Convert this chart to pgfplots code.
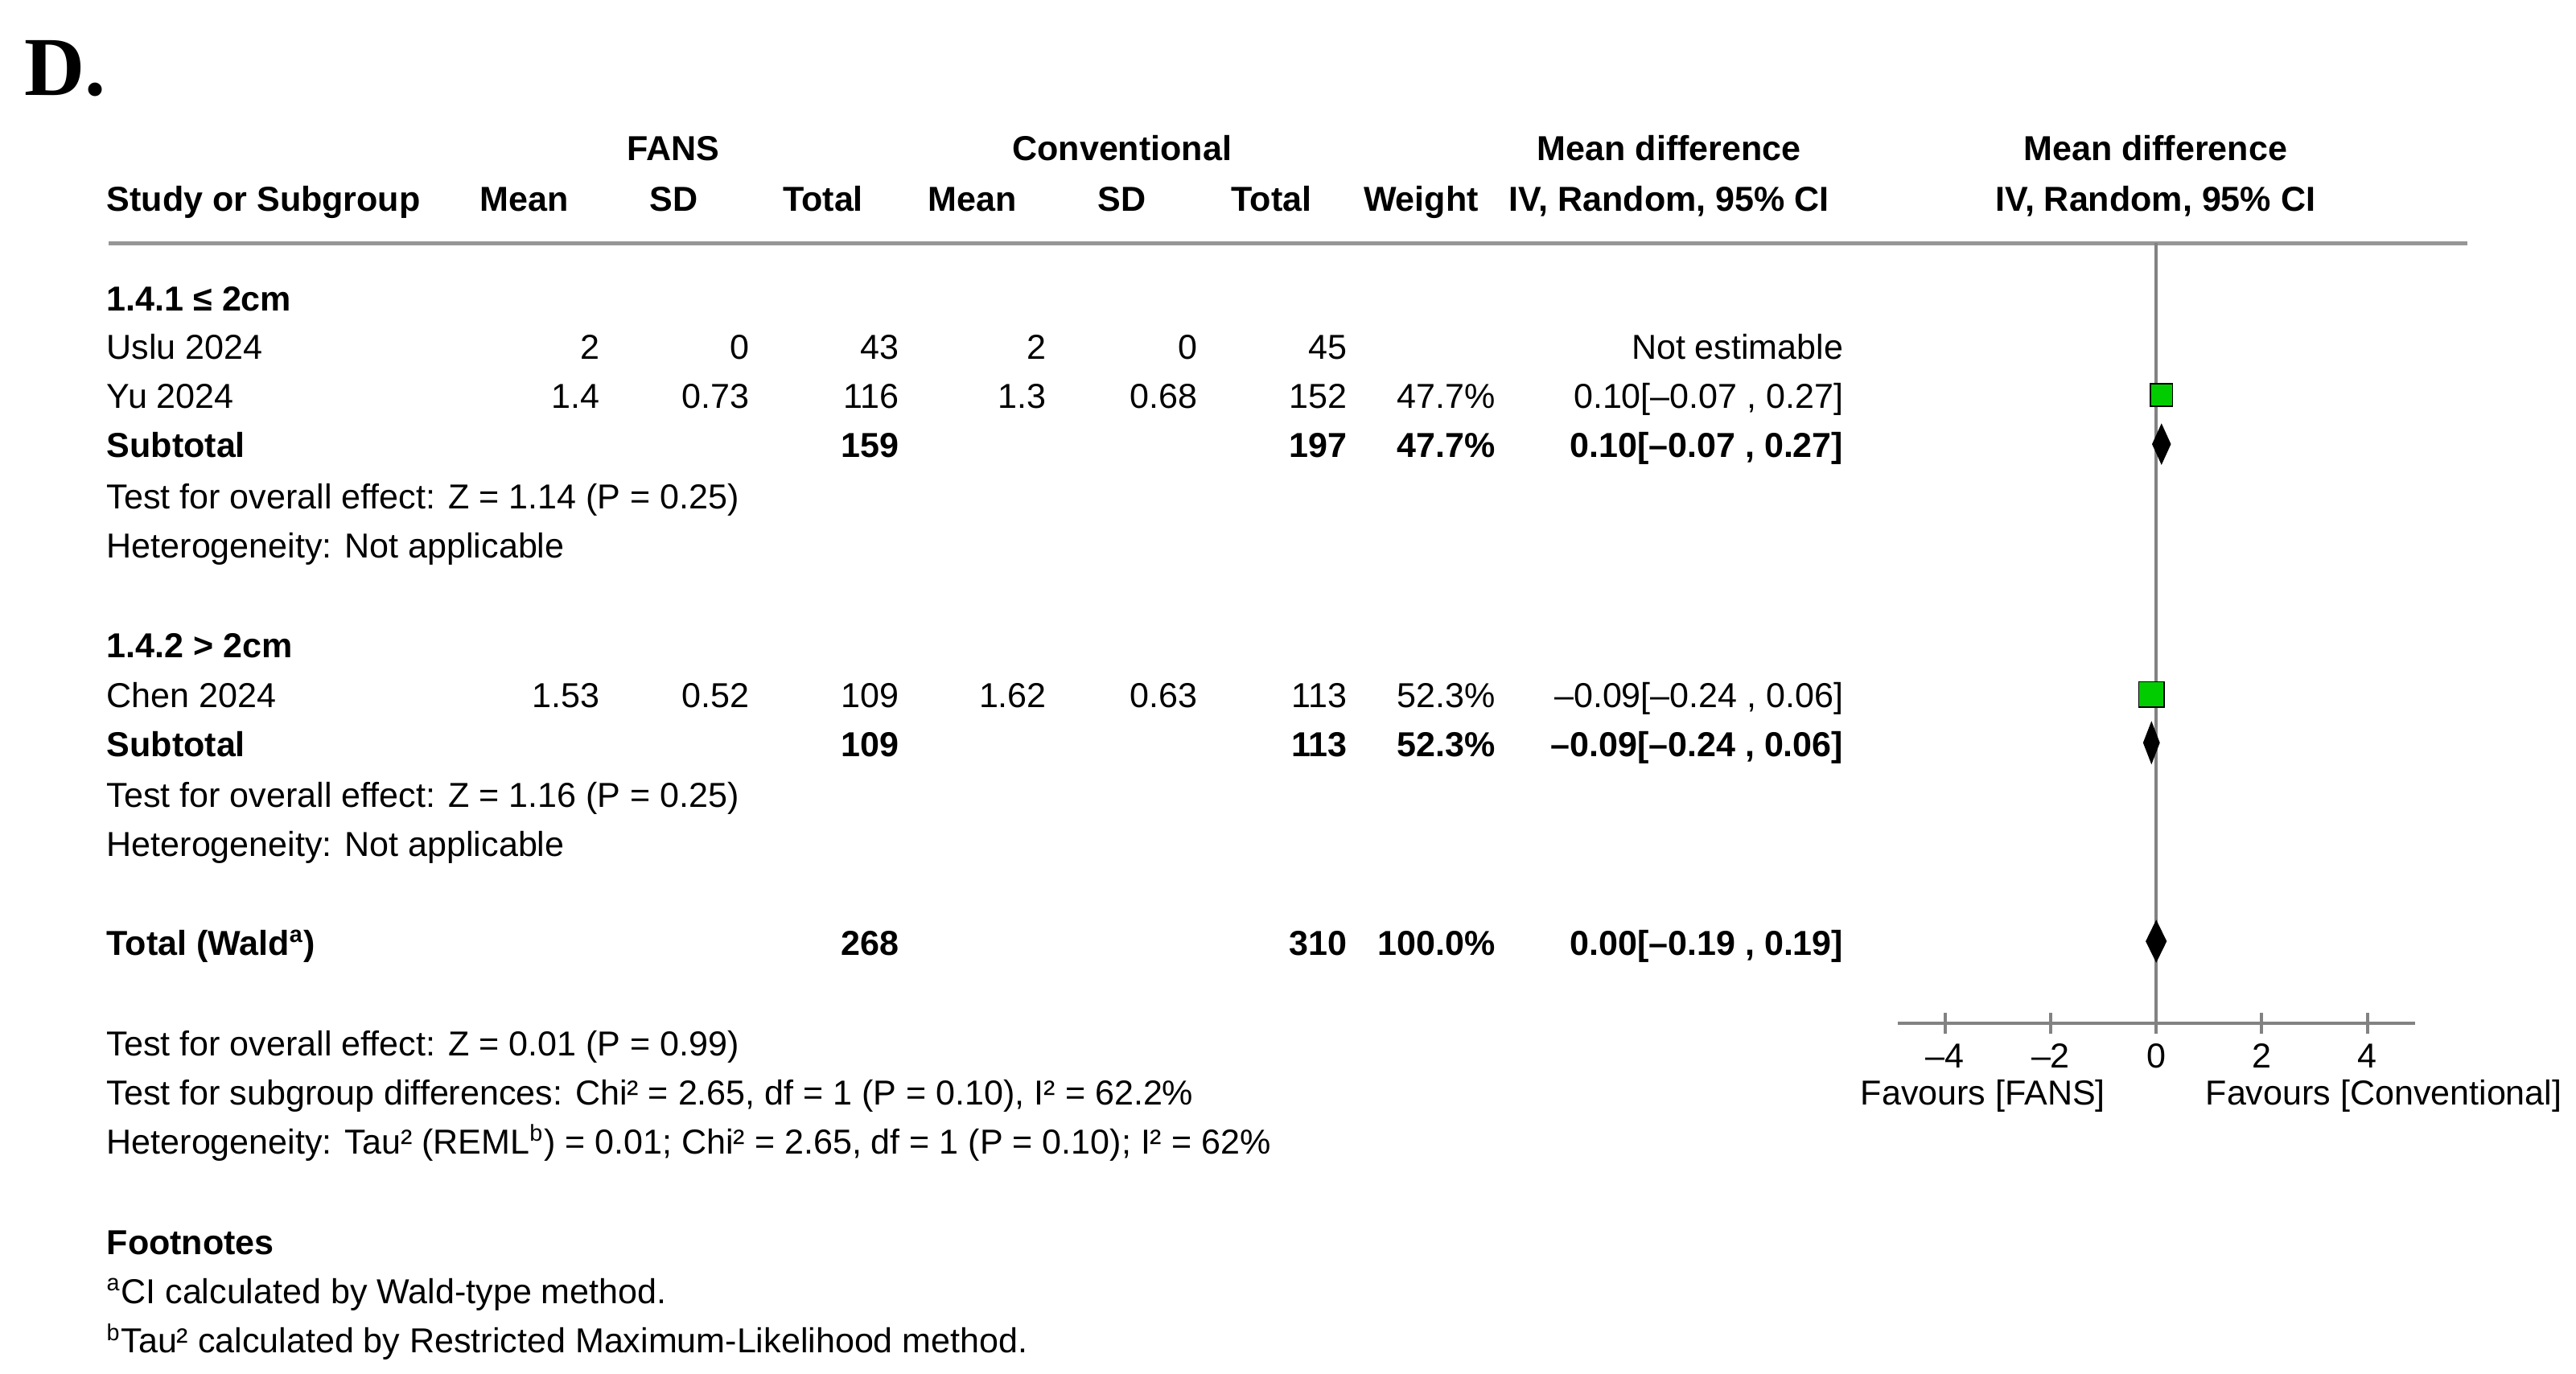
\documentclass[border=0pt]{standalone}
\usepackage{fontspec}
\setmainfont{Liberation Sans}
\newfontfamily\seriffont{Liberation Serif}
\usepackage{pgfplots}
\pgfplotsset{compat=1.18}
\definecolor{rmgreen}{RGB}{0,204,0}
\definecolor{rulegray}{RGB}{150,150,150}
\definecolor{linegray}{RGB}{130,130,130}
\newcommand\f{\fontsize{12pt}{14pt}\selectfont}
\begin{document}
\begin{tikzpicture}[x=0.02cm,y=-0.02cm,every node/.style={font=\f,inner sep=0pt,outer sep=0pt}]
\path (0,0) rectangle (1568,836);
% title
\node[anchor=base west,font=\seriffont\bfseries\fontsize{29pt}{32pt}\selectfont] at (15,58) {D.};
\begin{scope}[shift={(0,1.5)}]
% headers
\begin{scope}[every node/.append style={font=\f\bfseries}]
\node[anchor=base] at (410,96) {FANS};
\node[anchor=base] at (683,96) {Conventional};
\node[anchor=base] at (1016,96) {Mean difference};
\node[anchor=base] at (1312,96) {Mean difference};
\node[anchor=base west] at (65,127) {Study or Subgroup};
\node[anchor=base] at (319,127) {Mean};
\node[anchor=base] at (410,127) {SD};
\node[anchor=base] at (501,127) {Total};
\node[anchor=base] at (592,127) {Mean};
\node[anchor=base] at (683,127) {SD};
\node[anchor=base] at (774,127) {Total};
\node[anchor=base] at (865,127) {Weight};
\node[anchor=base] at (1016,127) {IV, Random, 95\% CI};
\node[anchor=base] at (1312,127) {IV, Random, 95\% CI};
\end{scope}
% subgroup 1
\node[anchor=base west,font=\f\bfseries] at (65,188) {1.4.1 ≤ 2cm};
\node[anchor=base west] at (65,217) {Uslu 2024};
\node[anchor=base east] at (365,217) {2};
\node[anchor=base east] at (456,217) {0};
\node[anchor=base east] at (547,217) {43};
\node[anchor=base east] at (637,217) {2};
\node[anchor=base east] at (729,217) {0};
\node[anchor=base east] at (820,217) {45};
\node[anchor=base east] at (1122,217) {Not estimable};
\node[anchor=base west] at (65,247) {Yu 2024};
\node[anchor=base east] at (365,247) {1.4};
\node[anchor=base east] at (456,247) {0.73};
\node[anchor=base east] at (547,247) {116};
\node[anchor=base east] at (637,247) {1.3};
\node[anchor=base east] at (729,247) {0.68};
\node[anchor=base east] at (820,247) {152};
\node[anchor=base east] at (910,247) {47.7\%};
\node[anchor=base east] at (1122,247) {0.10[–0.07 , 0.27]};
\begin{scope}[every node/.append style={font=\f\bfseries}]
\node[anchor=base west] at (65,277) {Subtotal};
\node[anchor=base east] at (547,277) {159};
\node[anchor=base east] at (820,277) {197};
\node[anchor=base east] at (910,277) {47.7\%};
\node[anchor=base east] at (1122,277) {0.10[–0.07 , 0.27]};
\end{scope}
\node[anchor=base west] at (65,308) {Test for overall effect: Z = 1.14 (P = 0.25)};
\node[anchor=base west] at (65,338) {Heterogeneity: Not applicable};
% subgroup 2
\node[anchor=base west,font=\f\bfseries] at (65,399) {1.4.2 > 2cm};
\node[anchor=base west] at (65,429) {Chen 2024};
\node[anchor=base east] at (365,429) {1.53};
\node[anchor=base east] at (456,429) {0.52};
\node[anchor=base east] at (547,429) {109};
\node[anchor=base east] at (637,429) {1.62};
\node[anchor=base east] at (729,429) {0.63};
\node[anchor=base east] at (820,429) {113};
\node[anchor=base east] at (910,429) {52.3\%};
\node[anchor=base east] at (1122,429) {–0.09[–0.24 , 0.06]};
\begin{scope}[every node/.append style={font=\f\bfseries}]
\node[anchor=base west] at (65,459) {Subtotal};
\node[anchor=base east] at (547,459) {109};
\node[anchor=base east] at (820,459) {113};
\node[anchor=base east] at (910,459) {52.3\%};
\node[anchor=base east] at (1122,459) {–0.09[–0.24 , 0.06]};
\end{scope}
\node[anchor=base west] at (65,490) {Test for overall effect: Z = 1.16 (P = 0.25)};
\node[anchor=base west] at (65,520) {Heterogeneity: Not applicable};
% total
\begin{scope}[every node/.append style={font=\f\bfseries}]
\node[anchor=base west] at (65,580) {Total (Wald\textsuperscript{a})};
\node[anchor=base east] at (547,580) {268};
\node[anchor=base east] at (820,580) {310};
\node[anchor=base east] at (910,580) {100.0\%};
\node[anchor=base east] at (1122,580) {0.00[–0.19 , 0.19]};
\end{scope}
\node[anchor=base west] at (65,641) {Test for overall effect: Z = 0.01 (P = 0.99)};
\node[anchor=base west] at (65,671) {Test for subgroup differences: Chi² = 2.65, df = 1 (P = 0.10), I² = 62.2\%};
\node[anchor=base west] at (65,701) {Heterogeneity: Tau² (REML\textsuperscript{b}) = 0.01; Chi² = 2.65, df = 1 (P = 0.10); I² = 62\%};
\node[anchor=base west,font=\f\bfseries] at (65,762) {Footnotes};
\node[anchor=base west] at (65,792) {\textsuperscript{a}CI calculated by Wald-type method.};
\node[anchor=base west] at (65,822) {\textsuperscript{b}Tau² calculated by Restricted Maximum-Likelihood method.};
% favours labels
\node[anchor=base] at (1207,671) {Favours [FANS]};
\node[anchor=base] at (1451,671) {Favours [Conventional]};
\end{scope}
\draw[rulegray,line width=1.4pt] (66,148) -- (1502,148);
% forest plot
\coordinate (axpos) at (1155,148);
\begin{axis}[
  at={(axpos)}, anchor=north west,
  scale only axis, width=6.3cm, height=9.5cm,
  xmin=-4.9, xmax=4.9, ymin=-623.5, ymax=-148,
  axis x line=bottom, axis y line=none,
  x axis line style={-, draw=linegray, line width=1.2pt},
  xtick={-4,-2,0,2,4}, xticklabels={–4,–2,0,2,4},
  tick align=center, major tick length=0.26cm,
  tick style={draw=linegray, line width=1.1pt},
  xticklabel style={font=\f, yshift=-3.5pt},
  clip=false,
]
\addplot[linegray, line width=1.1pt] coordinates {(0,-148) (0,-623.5)};
% study CIs
\addplot[black, line width=0.6pt] coordinates {(-0.07,-240.5) (0.27,-240.5)};
\addplot[black, line width=0.6pt] coordinates {(-0.24,-423) (0.06,-423)};
% study squares
\addplot[only marks, mark=square*, mark size=3.9pt, mark options={fill=rmgreen, draw=none}] coordinates {(0.10,-240.5)};
\addplot[only marks, mark=square*, mark size=4.4pt, mark options={fill=rmgreen, draw=none}] coordinates {(-0.09,-423)};
% diamonds
\addplot[fill=black, draw=black, line width=0.3pt] coordinates {(-0.07,-270.5) (0.10,-258.5) (0.27,-270.5) (0.10,-282.5)} -- cycle;
\addplot[fill=black, draw=black, line width=0.3pt] coordinates {(-0.24,-452.5) (-0.09,-440) (0.06,-452.5) (-0.09,-465)} -- cycle;
\addplot[fill=black, draw=black, line width=0.3pt] coordinates {(-0.19,-573.5) (0.00,-561) (0.19,-573.5) (0.00,-586)} -- cycle;
\end{axis}
\end{tikzpicture}
\end{document}
